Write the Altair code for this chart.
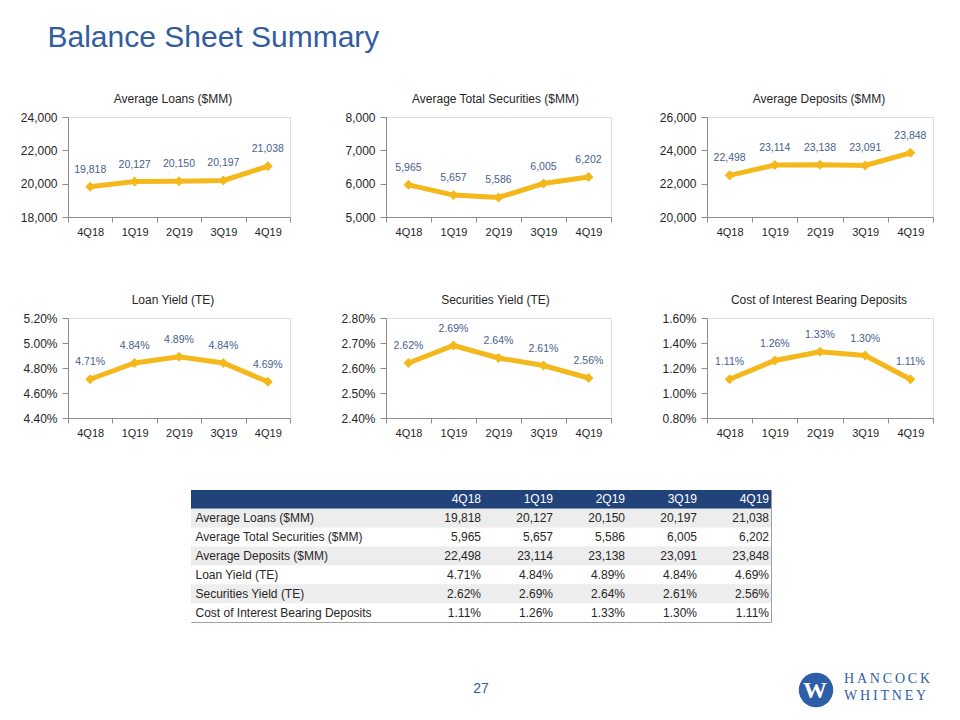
import altair as alt
import pandas as pd

# ---------------- data ----------------
quarters = ["4Q18", "1Q19", "2Q19", "3Q19", "4Q19"]
avg_loans = [19818, 20127, 20150, 20197, 21038]
avg_securities = [5965, 5657, 5586, 6005, 6202]
avg_deposits = [22498, 23114, 23138, 23091, 23848]
loan_yield = [4.71, 4.84, 4.89, 4.84, 4.69]
securities_yield = [2.62, 2.69, 2.64, 2.61, 2.56]
cost_ibd = [1.11, 1.26, 1.33, 1.30, 1.11]

metric_names = [
    "Average Loans ($MM)",
    "Average Total Securities ($MM)",
    "Average Deposits ($MM)",
    "Loan Yield (TE)",
    "Securities Yield (TE)",
    "Cost of Interest Bearing Deposits",
]

ticks_loans = [18000, 20000, 22000, 24000]
ticks_securities = [5000, 6000, 7000, 8000]
ticks_deposits = [20000, 22000, 24000, 26000]
ticks_loan_yield = [4.40, 4.60, 4.80, 5.00, 5.20]
ticks_sec_yield = [2.40, 2.50, 2.60, 2.70, 2.80]
ticks_cost = [0.80, 1.00, 1.20, 1.40, 1.60]

page_title = "Balance Sheet Summary"
page_number = "27"
logo_lines = ["H\u2009A\u2009N\u2009C\u2009O\u2009C\u2009K", "W\u2009H\u2009I\u2009T\u2009N\u2009E\u2009Y"]

# ---------------- styles ----------------
FONT = "Liberation Sans"
GOLD = "#F5B81C"
LABEL_BLUE = "#46618E"
TXT = "#262626"
AX = "#8C8C8C"
TITLE_BLUE = "#335C9E"
NAVY = "#22437A"
SHADE = "#EDEDED"
LOGO_BLUE = "#2F5EA8"


def panel(title, values, ticks, pct, width, title_dx, first_col):
    df = pd.DataFrame({"q": quarters, "v": values})
    if pct:
        lab_expr = "format(datum.v, '.2f') + '%'"
        axis_expr = "format(datum.value, '.2f') + '%'"
    else:
        lab_expr = "format(datum.v, ',')"
        axis_expr = "format(datum.value, ',')"
    yaxis_kw = dict(
        title=None, values=ticks, labelExpr=axis_expr, grid=False,
        tickSize=6, tickColor=AX, domainColor=AX, labelColor=TXT,
        labelFontSize=12, labelFont=FONT, labelPadding=5,
    )
    if first_col:
        yaxis_kw.update(minExtent=59, maxExtent=59)
    base = alt.Chart(df).transform_calculate(lab=lab_expr).encode(
        x=alt.X(
            "q:N", sort=quarters,
            scale=alt.Scale(type="band", paddingInner=0, paddingOuter=0),
            axis=alt.Axis(
                title=None, labelAngle=0, tickBand="extent", tickSize=5,
                tickColor=AX, domainColor=AX, labelColor=TXT, labelFontSize=11,
                labelFont=FONT, labelPadding=4, grid=False,
            ),
        ),
        y=alt.Y(
            "v:Q",
            scale=alt.Scale(domain=[ticks[0], ticks[-1]], zero=False, nice=False),
            axis=alt.Axis(**yaxis_kw),
        ),
    )
    line = base.mark_line(color=GOLD, strokeWidth=5)
    pts = base.mark_point(shape="diamond", filled=True, size=100, color=GOLD, opacity=1)
    txt = base.mark_text(dy=-17, fontSize=10.5, font=FONT, color=LABEL_BLUE, baseline="middle").encode(
        text="lab:N"
    )
    return alt.layer(line, pts, txt).properties(
        width=width,
        height=100,
        title=alt.TitleParams(
            title, fontSize=12, font=FONT, fontWeight="normal", color=TXT,
            anchor="middle", frame="group", offset=5, dx=title_dx,
        ),
    )


W1, W2, W3 = 222, 225, 226
p1 = panel(metric_names[0], avg_loans, ticks_loans, False, W1, -6, True)
p2 = panel(metric_names[1], avg_securities, ticks_securities, False, W2, -3, False)
p3 = panel(metric_names[2], avg_deposits, ticks_deposits, False, W3, -1, False)
p4 = panel(metric_names[3], loan_yield, ticks_loan_yield, True, W1, -6, True)
p5 = panel(metric_names[4], securities_yield, ticks_sec_yield, True, W2, -3, False)
p6 = panel(metric_names[5], cost_ibd, ticks_cost, True, W3, -1, False)

# ---------------- table ----------------
table_values = [avg_loans, avg_securities, avg_deposits, loan_yield, securities_yield, cost_ibd]
row_order = ["hdr"] + metric_names
cells = []
for ci, q in enumerate(quarters):
    cells.append({"row": "hdr", "col": ci + 1, "txt": q, "tc": "#FFFFFF"})
for mi, (name, vals) in enumerate(zip(metric_names, table_values)):
    for ci, v in enumerate(vals):
        t = f"{v:,}" if mi < 3 else f"{v:.2f}%"
        cells.append({"row": name, "col": ci + 1, "txt": t, "tc": TXT})
cells_df = pd.DataFrame(cells)
bg_df = pd.DataFrame({
    "row": row_order,
    "fill": [NAVY] + [SHADE if i % 2 == 0 else "#FFFFFF" for i in range(len(metric_names))],
})

TW, TH = 580, 132
table_axis = alt.Axis(
    title=None, orient="left", domain=False, ticks=False, tickSize=0,
    labelAlign="left", labelPadding=-4, labelFontSize=12, labelFont=FONT,
    labelColor=TXT, labelLimit=400, zindex=1,
    labelExpr="datum.value == 'hdr' ? '' : datum.value",
)
yrow = alt.Y("row:N", sort=row_order,
             scale=alt.Scale(domain=row_order, paddingInner=0, paddingOuter=0),
             axis=table_axis)

bg = alt.Chart(bg_df).mark_rect().encode(
    y=yrow, color=alt.Color("fill:N", scale=None)
)
cell_text = alt.Chart(cells_df).mark_text(align="right", baseline="middle", fontSize=12, font=FONT).encode(
    x=alt.X("col:Q", scale=alt.Scale(domain=[1, 5], range=[290, 578]), axis=None),
    y=yrow,
    text="txt:N",
    color=alt.Color("tc:N", scale=None),
)

# footer decorations (page number and logo), placed relative to the table frame
one = pd.DataFrame({"k": [0]})
pnum = alt.Chart(one).mark_text(
    text=page_number, fontSize=14, font=FONT, color=TITLE_BLUE, align="center", baseline="middle"
).encode(x=alt.value(290), y=alt.value(199))
logo_circle = alt.Chart(one).mark_circle(size=1190, color=LOGO_BLUE, opacity=1).encode(
    x=alt.value(625), y=alt.value(200)
)
logo_w = alt.Chart(one).mark_text(
    text="W", fontSize=24, font="Liberation Serif", fontWeight="bold", color="#FFFFFF",
    align="center", baseline="middle"
).encode(x=alt.value(624), y=alt.value(201))
logo_t1 = alt.Chart(one).mark_text(
    text=logo_lines[0], fontSize=14, font="Liberation Serif", color=LOGO_BLUE,
    align="left", baseline="middle"
).encode(x=alt.value(653), y=alt.value(189))
logo_t2 = alt.Chart(one).mark_text(
    text=logo_lines[1], fontSize=14, font="Liberation Serif", color=LOGO_BLUE,
    align="left", baseline="middle"
).encode(x=alt.value(653), y=alt.value(206))

table = alt.layer(bg, cell_text, pnum, logo_circle, logo_w, logo_t1, logo_t2).properties(
    width=TW, height=TH,
    view=alt.ViewBackground(stroke="#A0A0A0", strokeWidth=1),
)

spacer = alt.Chart(one).mark_point(opacity=0).properties(width=123, height=1)

# With "flush" bounds a nested concat group counts as zero height, so the
# spacing values below are measured from the top of the previous block.
row1 = alt.hconcat(p1, p2, p3, spacing=96, bounds="flush")
row2 = alt.hconcat(p4, p5, p6, spacing=96, bounds="flush")
block = alt.vconcat(row1, row2, spacing=201, bounds="flush")
table_row = alt.hconcat(spacer, table, spacing=0, bounds="flush")

chart = alt.vconcat(
    block, table_row, spacing=373, bounds="flush",
    title=alt.TitleParams(
        page_title, anchor="start", fontSize=30, font=FONT, fontWeight="normal",
        color=TITLE_BLUE, offset=40, dx=39,
    ),
    padding={"left": 0, "top": 14, "right": 0, "bottom": 0},
).configure_view(strokeWidth=0).configure(font=FONT)

chart.save("out.html", embed_options={"renderer": "svg", "actions": False})
